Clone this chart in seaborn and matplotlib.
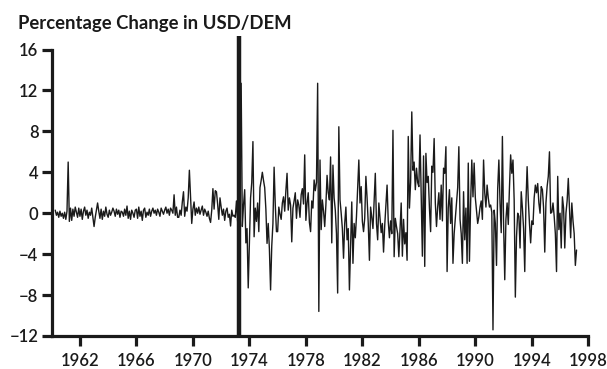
import matplotlib
matplotlib.use("Agg")
import matplotlib.pyplot as plt
import numpy as np
import pandas as pd
import seaborn as sns

title = "Percentage Change in USD/DEM"
first_month = "1960-04-01"

# monthly percentage changes (Jan..Dec per year)
v1960 = [0.3, -0.2, 0.1, -0.4, 0.2, -0.3, 0.0, -0.5, 0.1]  # Apr..Dec
v1961 = [-0.6, 0.2, 5.0, -0.8, 0.5, -0.7, 0.4, -0.3, 0.6, 0.1, -0.4, 0.5]
v1962 = [-0.3, 0.4, -0.6, 0.2, 0.6, -0.2, 0.3, -0.5, 0.1, -0.2, 0.5, -0.4]
v1963 = [-1.3, -0.4, 0.3, 1.0, 0.2, -0.5, 0.4, -0.6, 0.2, -0.3, 0.6, -0.1]
v1964 = [-0.4, 0.3, -0.2, 0.1, 0.5, 0.2, -0.3, 0.4, -0.1, 0.3, -0.4, 0.2]
v1965 = [0.1, -0.3, 0.4, -0.2, 0.7, -0.5, 0.2, -0.6, 0.3, 0.0, -0.4, 0.3]
v1966 = [0.4, -0.5, 0.6, -0.3, 0.2, -0.7, 0.3, 0.5, -0.4, 0.1, -0.2, 0.4]
v1967 = [-0.3, 0.2, 0.5, 0.0, 0.3, -0.2, 0.4, 0.1, -0.3, 0.5, 0.2, -0.1]
v1968 = [0.3, 0.6, 0.0, 0.4, -0.2, 0.5, 0.3, 0.0, 1.8, -0.2, 0.6, -0.4]
v1969 = [-0.4, 0.3, -0.2, 1.1, 2.1, -0.3, 0.6, 0.2, 1.5, 4.2, 1.6, -1.0]
v1970 = [0.4, 1.1, -0.2, 0.5, 0.0, 0.6, -0.1, 0.3, 0.7, -0.2, 0.4, 0.1]
v1971 = [-0.3, 0.2, -0.5, -0.9, 0.3, 2.4, 0.4, 2.2, 2.1, 0.9, -0.6, 1.5]
v1972 = [0.6, -0.2, 0.4, -0.7, 0.2, 0.5, -0.4, -0.1, -1.25, 0.3, -0.3, -0.2]
v1973 = [-0.4, 1.2, -0.8, 0.6, 2.0, 12.7, -1.3, 0.8, 2.3, -2.9, -1.5, -7.3]
v1974 = [-2.9, 1.5, 3.0, 7.0, -2.3, 0.5, -0.8, 1.0, -1.8, 2.5, 3.2, 4.0]
v1975 = [3.2, 2.5, 0.4, -2.95, -1.0, -3.5, -7.5, -3.2, -1.0, 4.5, 0.8, -1.8]
v1976 = [-1.8, 0.6, -0.1, -0.6, 1.0, 1.6, 0.2, 2.2, 3.9, 0.3, 1.5, 0.8]
v1977 = [-2.8, 0.5, 1.2, 2.0, -0.5, 1.3, 0.8, -0.4, 1.8, 2.4, 0.9, 5.7]
v1978 = [-0.7, 1.0, 2.0, -0.9, -1.8, 1.2, 0.5, 3.25, 2.2, 3.0, 12.7, -9.6]
v1979 = [5.2, -1.6, 1.3, 0.2, -1.3, 0.8, 3.7, 2.0, 1.3, 5.5, -2.9, 4.7]
v1980 = [1.5, 0.3, -2.0, -7.8, 8.45, 1.3, 0.0, -1.5, -4.4, -1.0, 0.6, -2.6]
v1981 = [-1.5, -7.5, -3.0, 1.1, -4.9, -1.0, -2.4, -0.3, 2.5, 5.2, 1.0, 2.6]
v1982 = [-0.8, -1.8, -0.5, 3.6, 1.5, -1.0, -4.6, 0.6, -0.4, -1.5, 1.2, 3.9]
v1983 = [-1.0, -2.6, 1.0, -0.5, -1.9, -1.0, -3.8, -1.2, 0.8, 2.75, -0.8, -2.4]
v1984 = [-0.75, -2.0, 8.1, -4.25, -0.5, -1.3, -2.0, -4.25, -1.5, 1.0, -4.2, -0.6]
v1985 = [-3.0, -1.9, -4.6, 7.5, 0.5, 3.0, 9.9, 4.2, 5.0, 2.3, 4.4, 3.0]
v1986 = [2.6, 7.65, 1.5, -4.2, 5.6, -5.2, 5.85, 3.0, 3.6, 0.5, -1.8, 4.6]
v1987 = [4.0, 7.3, 1.0, -1.3, 0.6, 2.0, -0.6, 2.75, -0.75, 4.4, 3.9, 6.5]
v1988 = [-5.7, 0.5, 2.3, -1.0, 1.5, -4.9, -2.0, -0.5, 1.0, 2.5, 6.5, -0.6]
v1989 = [-2.0, -4.9, 2.1, -2.6, 0.5, -4.9, 4.9, -4.7, 1.0, 5.2, 1.6, 4.9]
v1990 = [1.5, 0.3, -1.0, -0.35, 0.6, 1.2, -0.6, 5.2, 2.0, 0.6, 2.75, 1.5]
v1991 = [0.6, 0.8, 0.1, -11.4, 0.3, -1.0, -5.1, 2.4, 5.2, 1.0, -1.9, 7.5]
v1992 = [-1.0, -6.5, -0.6, 1.0, -1.1, 2.5, 5.7, 3.9, 5.2, 1.3, -8.2, -2.3]
v1993 = [0.0, -0.3, -3.4, 2.1, 0.5, -1.5, -5.7, 1.0, 4.55, 1.3, -1.0, -2.9]
v1994 = [-0.75, -1.1, 1.5, 2.75, 2.0, 2.9, 1.0, 0.0, 2.6, 2.3, 0.5, -3.8]
v1995 = [1.0, 2.6, 3.6, 6.0, 0.0, 0.1, 1.0, -0.3, -2.0, -5.7, 3.6, -1.6]
v1996 = [0.0, -3.4, 1.6, 0.5, -3.4, 0.0, 1.2, 3.4, 0.5, -2.4, 1.0, -0.75]
v1997 = [-2.0, -5.1, -3.6]  # Jan..Mar

values = (v1960 + v1961 + v1962 + v1963 + v1964 + v1965 + v1966 + v1967 + v1968
          + v1969 + v1970 + v1971 + v1972 + v1973 + v1974 + v1975 + v1976 + v1977
          + v1978 + v1979 + v1980 + v1981 + v1982 + v1983 + v1984 + v1985 + v1986
          + v1987 + v1988 + v1989 + v1990 + v1991 + v1992 + v1993 + v1994 + v1995
          + v1996 + v1997)

xticks = [1962, 1966, 1970, 1974, 1978, 1982, 1986, 1990, 1994, 1998]
yticks = [-12, -8, -4, 0, 4, 8, 12, 16]
x_range = [1960, 1998]
y_range = [-12, 16]
float_date = 1973.25      # start of floating rates (vertical marker)
marker_top = 17.3

dates = pd.date_range(first_month, periods=len(values), freq="MS")
df = pd.DataFrame({"t": dates.year + (dates.month - 1) / 12.0, "pct": values})

sns.set_style("ticks")
plt.rcParams["font.family"] = ["Lato", "DejaVu Sans"]

fig = plt.figure(figsize=(6.07, 3.69), dpi=100)
ax = fig.add_axes([51.7 / 607, 33 / 369, (588.3 - 51.7) / 607, (336 - 49.5) / 369])

sns.lineplot(data=df, x="t", y="pct", ax=ax, color="#1a1a1a", linewidth=1.0)
ax.vlines(float_date, y_range[0], marker_top, colors="#1a1a1a", linewidth=3.2,
          clip_on=False, zorder=5)

ax.set_xlim(*x_range)
ax.set_ylim(*y_range)
ax.set_xticks(xticks)
ax.set_yticks(yticks)
ax.set_xticklabels([str(t) for t in xticks])
ax.set_yticklabels([str(t).replace("-", "\u2212") for t in yticks])
ax.set_xlabel("")
ax.set_ylabel("")
for s in ["top", "right"]:
    ax.spines[s].set_visible(False)
for s in ["left", "bottom"]:
    ax.spines[s].set_linewidth(2.3)
    ax.spines[s].set_color("#1a1a1a")
ax.tick_params(axis="both", direction="out", length=7.5, width=2.3, color="#1a1a1a",
               labelsize=12, labelcolor="#1a1a1a")
ax.tick_params(axis="y", pad=2)
ax.tick_params(axis="x", pad=4.5)
for lab in ax.get_xticklabels() + ax.get_yticklabels():
    lab.set_fontweight("semibold")
ax.grid(False)

fig.text(18 / 607, 1 - 29 / 369, title, ha="left", va="baseline",
         fontsize=13.3, fontweight="bold", color="#1a1a1a")

fig.savefig("out.png", dpi=100)
